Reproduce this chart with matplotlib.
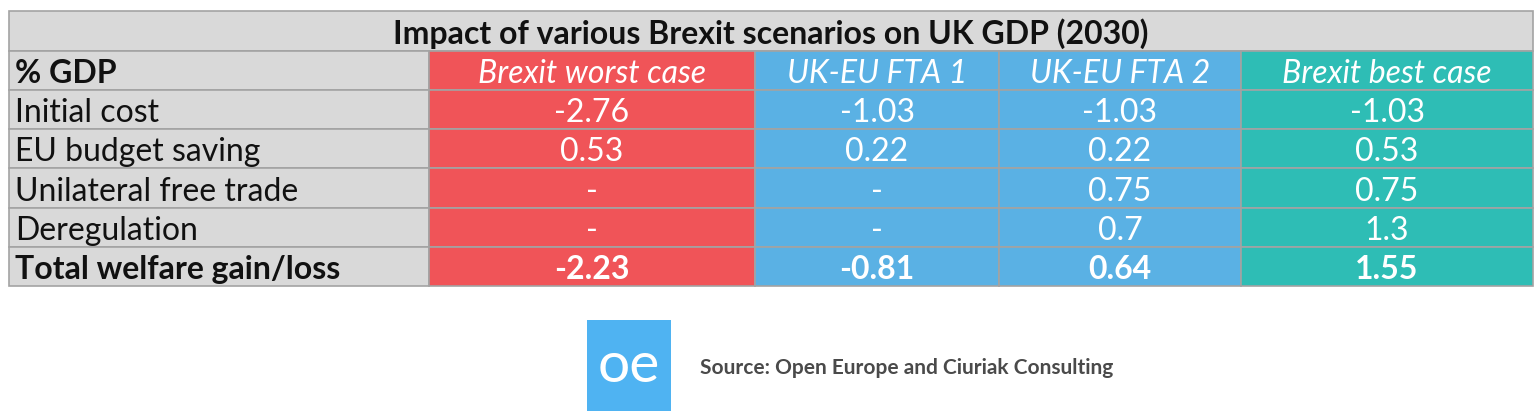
import matplotlib
matplotlib.use("Agg")
import matplotlib.pyplot as plt
from matplotlib.patches import Rectangle

plt.rcParams['font.family'] = ['Lato', 'DejaVu Sans']

title = "Impact of various Brexit scenarios on UK GDP (2030)"
corner = "% GDP"
scenarios = ["Brexit worst case", "UK-EU FTA 1", "UK-EU FTA 2", "Brexit best case"]
rows = ["Initial cost", "EU budget saving", "Unilateral free trade", "Deregulation",
        "Total welfare gain/loss"]
worst_case = ["-2.76", "0.53", "-", "-", "-2.23"]
fta_1 = ["-1.03", "0.22", "-", "-", "-0.81"]
fta_2 = ["-1.03", "0.22", "0.75", "0.7", "0.64"]
best_case = ["-1.03", "0.53", "0.75", "1.3", "1.55"]
source = "Source: Open Europe and Ciuriak Consulting"

columns = [worst_case, fta_1, fta_2, best_case]
col_colors = ["#F05458", "#5AB1E4", "#5AB1E4", "#2EBDB5"]
gray = "#D9D9D9"
edge = "#A3A3A3"

# layout, in pixels
col_x = [9, 429, 755, 999, 1241, 1533]
row_y = [11, 51, 90, 129, 168, 208, 247, 286]
fs = 23
off = 7

fig = plt.figure(figsize=(15.4, 4.18), dpi=100)
ax = fig.add_axes([0, 0, 1, 1])
ax.set_xlim(0, 1540)
ax.set_ylim(418, 0)
ax.axis('off')

def cell(x0, x1, y0, y1, color):
    ax.add_patch(Rectangle((x0, y0), x1 - x0, y1 - y0, facecolor=color,
                           edgecolor=edge, linewidth=1.2))

# title row
cell(col_x[0], col_x[-1], row_y[0], row_y[1], gray)
ax.text((col_x[0] + col_x[-1]) / 2, row_y[1] - off, title, ha='center', va='baseline',
        fontsize=fs, fontweight='bold', color='#111111')

# row label column
for i in range(len(rows) + 1):
    cell(col_x[0], col_x[1], row_y[i + 1], row_y[i + 2], gray)
ax.text(col_x[0] + 6, row_y[2] - off, corner, ha='left', va='baseline',
        fontsize=fs, fontweight='bold', color='#111111')
for i, r in enumerate(rows):
    bold = i == len(rows) - 1
    ax.text(col_x[0] + 6, row_y[i + 3] - off, r, ha='left', va='baseline', fontsize=fs,
            fontweight='bold' if bold else 'normal', color='#111111')

# scenario columns
for j, (name, vals) in enumerate(zip(scenarios, columns)):
    x0, x1 = col_x[j + 1], col_x[j + 2]
    xc = (x0 + x1) / 2
    for i in range(len(rows) + 1):
        cell(x0, x1, row_y[i + 1], row_y[i + 2], col_colors[j])
    ax.text(xc, row_y[2] - off, name, ha='center', va='baseline', fontsize=fs,
            fontstyle='italic', color='white')
    for i, v in enumerate(vals):
        bold = i == len(vals) - 1
        ax.text(xc, row_y[i + 3] - off, v, ha='center', va='baseline', fontsize=fs,
                fontweight='bold' if bold else 'normal', color='white')

# logo + source
ax.add_patch(Rectangle((587, 320), 84, 91, facecolor="#4FB3F2", edgecolor='none'))
ax.text(629, 382, "oe", ha='center', va='baseline', fontsize=41, color='white')
ax.text(700, 374, source, ha='left', va='baseline', fontsize=15,
        fontweight='bold', color='#4A4A4A')

fig.savefig("out.png", dpi=100)
